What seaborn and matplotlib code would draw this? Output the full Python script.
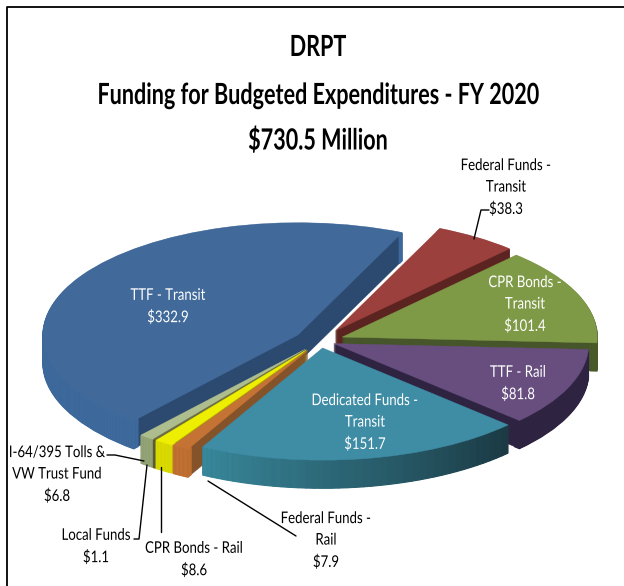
import matplotlib
matplotlib.use('Agg')
import matplotlib.pyplot as plt
import matplotlib.patheffects as pe
from matplotlib.patches import Wedge
from matplotlib.transforms import Affine2D
import seaborn as sns

# clockwise from the right hand side in the source; pie runs counter clockwise
categories = ['CPR Bonds -\nTransit', 'Federal Funds -\nTransit', 'TTF - Transit',
              'I-64/395 Tolls &\nVW Trust Fund', 'Local Funds', 'CPR Bonds - Rail',
              'Federal Funds -\nRail', 'Dedicated Funds -\nTransit', 'TTF - Rail']
values = [101.4, 38.3, 332.9, 6.8, 1.1, 8.6, 7.9, 151.7, 81.8]
title_lines = ['DRPT', 'Funding for Budgeted Expenditures - FY 2020', '$730.5 Million']

W, H = 624, 586
SQUASH = 0.44
RADIUS = 255
DEPTH = 28
CX, CY = 320, 341
LABEL_SQUEEZE = 0.82

explode = [24, 28, 26, 24, 24, 24, 24, 16, 15]
top_colors = ['#7F9A47', '#9B403D', '#41699A', '#AEBD8E', '#6F6F45', '#EEEE00', '#C47335', '#3F8CA5', '#674E7F']
cut_colors = ['#46552A', '#5C2421', '#2C4A70', '#7C8A62', '#4C4C2C', '#A8A800', '#84532A', '#2A6470', '#2E2340']
rim_left = ['#4A5A28', '#5C2421', '#3E6A9D', '#93A376', '#5A5A35', '#DADA00', '#C07030', '#38879A', '#2E2340']
rim_right = ['#4A5A28', '#5C2421', '#3E6A9D', '#93A376', '#5A5A35', '#DADA00', '#C07030', '#1B3A44', '#2E2340']
# back to front
draw_order = [2, 1, 0, 8, 3, 4, 5, 6, 7]

label_spots = [(525, 305, 'white'), (506, 188, 'black'), (168, 307, 'white'), (57, 475, 'black'),
               (96, 547, 'black'), (194, 560, 'black'), (326, 541, 'black'), (365, 423, 'white'), (518, 384, 'white')]
leaders = [[(474, 239), (481, 210), (489, 210)],
           [(107, 455), (115, 455), (144, 461)],
           [(134, 539), (139, 539), (147, 465)],
           [(161, 467), (161, 532)],
           [(208, 481), (296, 536)]]

sns.set_theme(style='white')
plt.rcParams['font.family'] = ['Lato', 'DejaVu Sans']


class Narrow(pe.AbstractPathEffect):
    # squeeze glyphs sideways around x0, no narrow font is installed
    def __init__(self, x0, factor):
        super().__init__()
        self.x0 = x0
        self.factor = factor

    def draw_path(self, renderer, gc, tpath, affine, rgbFace=None):
        squeeze = Affine2D().translate(-self.x0, 0).scale(self.factor, 1).translate(self.x0, 0)
        renderer.draw_path(gc, tpath, affine + squeeze, rgbFace)


fig = plt.figure(figsize=(W / 100, H / 100), dpi=100)
ax = fig.add_axes([0, 0, 1, 1])
zrank = {idx: rank for rank, idx in enumerate(draw_order)}


def draw_layer(drop, colors, base_z):
    wedges, _ = ax.pie(values, explode=explode, colors=colors, startangle=-3, radius=RADIUS,
                       center=(CX, (H - CY - drop) / SQUASH), frame=True,
                       wedgeprops={'linewidth': 0.3})
    for i, w in enumerate(wedges):
        w.set_edgecolor(colors[i])
        w.set_zorder(zrank[i] * 1000 + base_z)
    return wedges


# wall of each slice is a stack of pies going up to the top face
for drop in range(DEPTH, 0, -1):
    z = (DEPTH - drop) * 2
    wedges = draw_layer(drop, cut_colors, z)
    for i, w in enumerate(wedges):
        n = 40 if rim_left[i] != rim_right[i] else 1
        shades = sns.blend_palette([rim_left[i], rim_right[i]], n)
        step = (w.theta2 - w.theta1) / n
        for k, shade in enumerate(shades):
            ax.add_patch(Wedge(w.center, RADIUS, w.theta1 + k * step, w.theta1 + (k + 1) * step,
                               width=7, facecolor=shade, edgecolor=shade, linewidth=1.0,
                               zorder=zrank[i] * 1000 + z + 1))

draw_layer(0, top_colors, 900)

ax.set_aspect('auto')
ax.set_xlim(0, W)
ax.set_ylim(0, H / SQUASH)
ax.set_axis_off()

# overlay in picture coordinates for frame, text and leader lines
over = fig.add_axes([0, 0, 1, 1])
over.set_xlim(0, W)
over.set_ylim(H, 0)
over.set_axis_off()
over.patch.set_alpha(0)

over.plot([7, 7, W], [H, 7, 7], color='black', lw=1.3, solid_capstyle='butt')

for y, line in zip([48, 96, 141], title_lines):
    over.text(318, y, line, ha='center', va='center', fontsize=21, fontweight='bold', color='black',
              path_effects=[Narrow(318, 0.74)])

for name, val, (x, y, col) in zip(categories, values, label_spots):
    # unsqueezed box has to stay on the canvas, the squeeze brings the glyphs back to x
    tx = max(x, 66)
    x0 = (x - LABEL_SQUEEZE * tx) / (1 - LABEL_SQUEEZE)
    over.text(tx, y, f'{name}\n${val}', ha='center', va='center', fontsize=11.6, color=col, linespacing=1.68,
              path_effects=[Narrow(x0, LABEL_SQUEEZE)])

for pts in leaders:
    over.plot([p[0] for p in pts], [p[1] for p in pts], color='black', lw=1)

fig.savefig('out.png', dpi=100)
